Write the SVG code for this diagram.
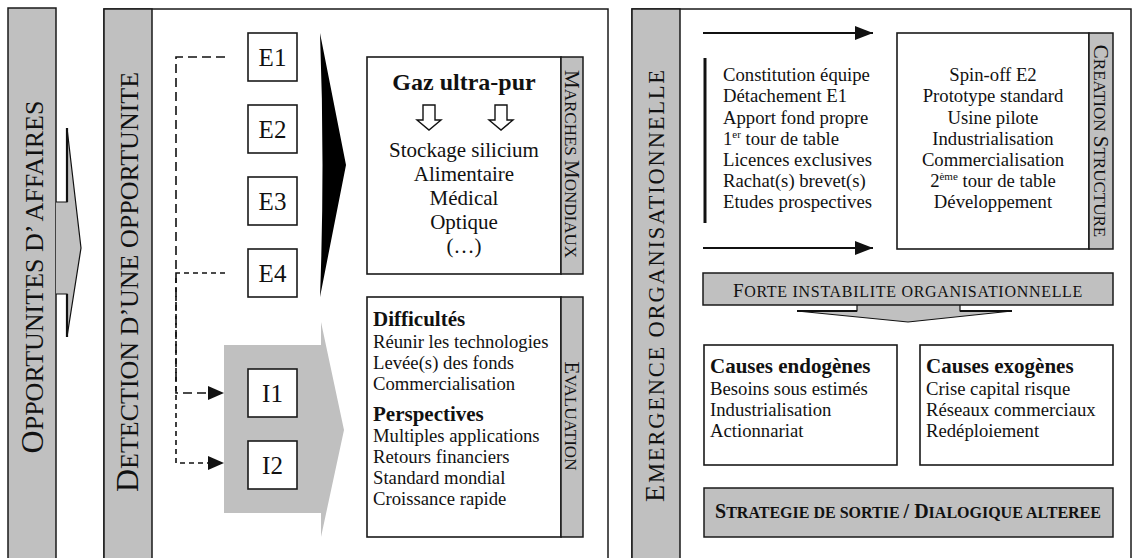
<svg xmlns="http://www.w3.org/2000/svg" width="1132" height="558" viewBox="0 0 1132 558">
<style>
text{font-family:"Liberation Serif","Times New Roman",serif;fill:#111}
.g{fill:#c0c0c0;stroke:#1a1a1a;stroke-width:1.5}
.w{fill:#fff;stroke:#1a1a1a;stroke-width:1.5}
.bx{fill:#fff;stroke:#1a1a1a;stroke-width:1.6}
.b{font-weight:bold}
.t{font-size:18.7px}
.c{text-anchor:middle}
.lbl{font-size:25px;text-anchor:middle}
.gz{font-size:21px;text-anchor:middle}
.ttl{text-anchor:middle}
.dash{fill:none;stroke:#111;stroke-width:1.6}
.solid{fill:none;stroke:#111;stroke-width:2}
</style>
<defs>
<marker id="ah" viewBox="0 0 16 14" refX="16" refY="7" markerWidth="16" markerHeight="14" markerUnits="userSpaceOnUse" orient="auto"><path d="M0,0 L16,7 L0,14 Z" fill="#111"/></marker>
<marker id="ah2" viewBox="0 0 18 14" refX="18" refY="7" markerWidth="18" markerHeight="14" markerUnits="userSpaceOnUse" orient="auto"><path d="M0,0 L18,7 L0,14 Z" fill="#111"/></marker>
</defs>
<rect x="0" y="0" width="1132" height="558" fill="#fff"/>

<g id="col-opportunites">
<rect class="g" x="8" y="8" width="48" height="560"/>
<text class="ttl" transform="translate(43,277) rotate(-90)"><tspan font-size="32">O</tspan><tspan font-size="26">PPORTUNITES D’ AFFAIRES</tspan></text>
</g>

<g id="arrow-opportunites">
<path d="M56,202 H67 V128 L81,248 L67,337 V294 H56" fill="#c0c0c0" stroke="#111" stroke-width="1.2"/>
<path d="M67,128 V202 M67,294 V337" stroke="#111" stroke-width="2.2" fill="none"/>
</g>

<g id="panel-detection">
<rect class="w" x="104" y="9" width="504" height="560"/>
<rect class="g" x="104" y="9" width="48" height="560"/>
<text class="ttl" transform="translate(138,282) rotate(-90)"><tspan font-size="32">D</tspan><tspan font-size="26">ETECTION D’UNE OPPORTUNITE</tspan></text>
</g>

<g id="gray-arrow">
<path d="M224,345 H321 V322 L344,430 L321,537 V513 H224 Z" fill="#c0c0c0"/>
</g>

<g id="black-arrow">
<path d="M320,33 L346,165 L320,297 Q325,165 320,33 Z" fill="#000"/>
</g>

<g id="E1"><rect class="bx" x="248" y="33" width="49" height="48"/><text class="lbl" x="272.5" y="66">E1</text></g>
<g id="E2"><rect class="bx" x="248" y="105" width="49" height="48"/><text class="lbl" x="272.5" y="138">E2</text></g>
<g id="E3"><rect class="bx" x="248" y="177" width="49" height="48"/><text class="lbl" x="272.5" y="210">E3</text></g>
<g id="E4"><rect class="bx" x="248" y="249" width="49" height="48"/><text class="lbl" x="272.5" y="282">E4</text></g>
<g id="I1"><rect class="bx" x="248" y="369" width="49" height="48"/><text class="lbl" x="272.5" y="402">I1</text></g>
<g id="I2"><rect class="bx" x="248" y="441" width="49" height="48"/><text class="lbl" x="272.5" y="474">I2</text></g>

<g id="marches">
<rect class="bx" x="367" y="57" width="194" height="217"/>
<rect class="g" x="561" y="57" width="22" height="217"/>
<text class="ttl" transform="translate(565,164) rotate(90)"><tspan font-size="21">M</tspan><tspan font-size="17">ARCHES </tspan><tspan font-size="21">M</tspan><tspan font-size="17">ONDIAUX</tspan></text>
<text class="b c" x="464" y="90" font-size="24">Gaz ultra-pur</text>
<path d="M423,105 H435 V120 H441 L429,130 L417,120 H423 Z M495,105 H507 V120 H513 L501,130 L489,120 H495 Z" fill="#fff" stroke="#111" stroke-width="1.4"/>
<text class="gz" x="464" y="157">Stockage silicium</text>
<text class="gz" x="464" y="181">Alimentaire</text>
<text class="gz" x="464" y="205">Médical</text>
<text class="gz" x="464" y="229">Optique</text>
<text class="gz" x="464" y="253">(…)</text>
</g>

<g id="evaluation">
<rect class="bx" x="367" y="297" width="194" height="240"/>
<rect class="g" x="561" y="297" width="22" height="240"/>
<text class="ttl" transform="translate(565,416) rotate(90)"><tspan font-size="21">E</tspan><tspan font-size="17">VALUATION</tspan></text>
<text class="b" x="373" y="326" font-size="21">Difficultés</text>
<text class="t" x="373" y="348">Réunir les technologies</text>
<text class="t" x="373" y="369">Levée(s) des fonds</text>
<text class="t" x="373" y="390">Commercialisation</text>
<text class="b" x="373" y="421" font-size="21">Perspectives</text>
<text class="t" x="373" y="442">Multiples applications</text>
<text class="t" x="373" y="463">Retours financiers</text>
<text class="t" x="373" y="484">Standard mondial</text>
<text class="t" x="373" y="505">Croissance rapide</text>
</g>

<g id="panel-emergence">
<rect class="w" x="632" y="9" width="499" height="560"/>
<rect class="g" x="632" y="9" width="48" height="560"/>
<text class="ttl" letter-spacing="1.8" transform="translate(664,285) rotate(-90)"><tspan font-size="28">E</tspan><tspan font-size="22.5">MERGENCE ORGANISATIONNELLE</tspan></text>
</g>

<g id="actions">
<line x1="705" y1="58" x2="705" y2="223" stroke="#111" stroke-width="3"/>
<text class="t" x="723" y="81">Constitution équipe</text>
<text class="t" x="723" y="102">Détachement E1</text>
<text class="t" x="723" y="123.5">Apport fond propre</text>
<text class="t" x="723" y="145">1<tspan font-size="11" dy="-7">er</tspan><tspan dy="7"> tour de table</tspan></text>
<text class="t" x="723" y="166">Licences exclusives</text>
<text class="t" x="723" y="187">Rachat(s) brevet(s)</text>
<text class="t" x="723" y="208">Etudes prospectives</text>
</g>

<g id="creation">
<rect class="bx" x="897" y="33" width="192" height="216"/>
<rect class="g" x="1089" y="33" width="24" height="216"/>
<text class="ttl" transform="translate(1094,141) rotate(90)"><tspan font-size="21">C</tspan><tspan font-size="17">REATION </tspan><tspan font-size="21">S</tspan><tspan font-size="17">TRUCTURE</tspan></text>
<text class="t c" x="993" y="81">Spin-off E2</text>
<text class="t c" x="993" y="102">Prototype standard</text>
<text class="t c" x="993" y="123.5">Usine pilote</text>
<text class="t c" x="993" y="145">Industrialisation</text>
<text class="t c" x="993" y="166">Commercialisation</text>
<text class="t c" x="993" y="187">2<tspan font-size="11" dy="-7">ème</tspan><tspan dy="7"> tour de table</tspan></text>
<text class="t c" x="993" y="208">Développement</text>
</g>

<g id="forte">
<path d="M857,305 V311 H797 L908,322 L1012,311 H960 V305" fill="#c0c0c0" stroke="#111" stroke-width="1.2"/>
<path d="M797,311 H857 M960,311 H1012" stroke="#111" stroke-width="2.2" fill="none"/>
<rect class="g" x="703" y="273" width="410" height="32"/>
<text class="ttl" x="908" y="296.5" letter-spacing="0.7"><tspan font-size="19">F</tspan><tspan font-size="16">ORTE INSTABILITE ORGANISATIONNELLE</tspan></text>
</g>

<g id="causes-endogenes">
<rect class="bx" x="704" y="345" width="193" height="120"/>
<text class="b" x="710" y="373" font-size="21">Causes endogènes</text>
<text class="t" x="710" y="395">Besoins sous estimés</text>
<text class="t" x="710" y="416">Industrialisation</text>
<text class="t" x="710" y="437">Actionnariat</text>
</g>

<g id="causes-exogenes">
<rect class="bx" x="920" y="345" width="193" height="120"/>
<text class="b" x="926" y="373" font-size="21">Causes exogènes</text>
<text class="t" x="926" y="395">Crise capital risque</text>
<text class="t" x="926" y="416">Réseaux commerciaux</text>
<text class="t" x="926" y="437">Redéploiement</text>
</g>

<g id="strategie">
<rect class="g" x="704" y="488" width="409" height="49"/>
<text class="ttl b" x="908" y="518"><tspan font-size="20">S</tspan><tspan font-size="16">TRATEGIE DE SORTIE </tspan><tspan font-size="20">/ D</tspan><tspan font-size="16">IALOGIQUE ALTEREE</tspan></text>
</g>

<g id="connectors">
<path class="dash" d="M225,57 H176 V393 H224" stroke-dasharray="9,5" marker-end="url(#ah)"/>
<path class="dash" d="M225,273 H176 V463 H224" stroke-dasharray="5,4" marker-end="url(#ah)"/>
<path class="solid" d="M703,33 H873" marker-end="url(#ah2)"/>
<path class="solid" d="M703,248 H873" marker-end="url(#ah2)"/>
</g>
</svg>
